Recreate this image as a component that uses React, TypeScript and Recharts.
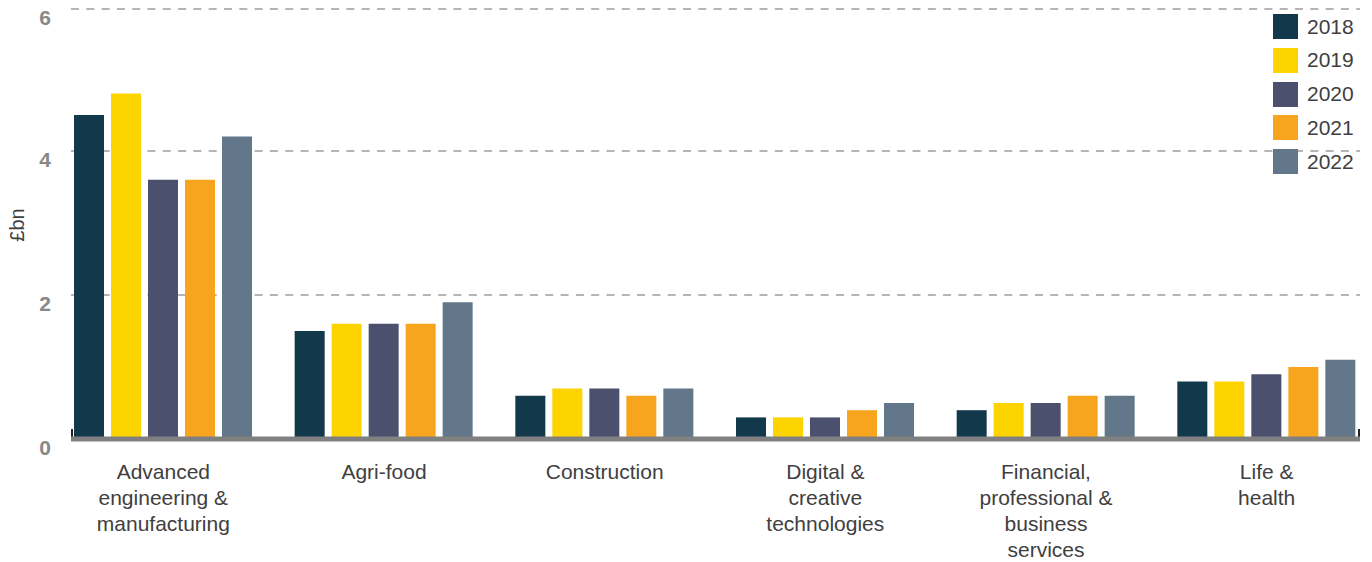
import React from "react";
import {
    BarChart,
    Bar,
    XAxis,
    YAxis,
    CartesianGrid,
    usePlotArea,
} from "recharts";

const categories = [
    "Advanced\nengineering &\nmanufacturing",
    "Agri-food",
    "Construction",
    "Digital &\ncreative\ntechnologies",
    "Financial,\nprofessional &\nbusiness\nservices",
    "Life &\nhealth",
];

const years = ["2018", "2019", "2020", "2021", "2022"];
const colors = ["#12384c", "#fdd300", "#4c506f", "#f7a51e", "#627789"];

const values2018 = [4.5, 1.5, 0.6, 0.3, 0.4, 0.8];
const values2019 = [4.8, 1.6, 0.7, 0.3, 0.5, 0.8];
const values2020 = [3.6, 1.6, 0.7, 0.3, 0.5, 0.9];
const values2021 = [3.6, 1.6, 0.6, 0.4, 0.6, 1.0];
const values2022 = [4.2, 1.9, 0.7, 0.5, 0.6, 1.1];

const yTicks = [0, 2, 4, 6];

const series = [values2018, values2019, values2020, values2021, values2022];

const data = categories.map((c, i) => {
    const row: any = { name: c };
    years.forEach((y, j) => {
        row[y] = series[j][i];
    });
    return row;
});

const FONT = "'Liberation Sans', Arial, sans-serif";
const GRID = "#b5b5b5";

const XTick = (props: any) => {
    const { x, y, payload } = props;
    const lines = String(payload.value).split("\n");
    return (
        <text x={x} y={y} textAnchor="middle" fill="#404040" fontSize={21} fontFamily={FONT}>
            {lines.map((l, i) => (
                <tspan key={i} x={x} y={479 + i * 26}>
                    {l}
                </tspan>
            ))}
        </text>
    );
};

const YTick = (props: any) => {
    const { y, payload } = props;
    return (
        <g>
            {payload.value === 6 && (
                <line
                    x1={71}
                    x2={1360}
                    y1={y}
                    y2={y}
                    stroke={GRID}
                    strokeWidth={2}
                    strokeDasharray="8 7.3"
                />
            )}
            <text x={51} y={y + 16} textAnchor="end" fill="#888888" fontSize={21} fontWeight="bold" fontFamily={FONT}>
                {payload.value}
            </text>
        </g>
    );
};

// little dark end ticks on the baseline
const EndTicks = () => {
    const area = usePlotArea();
    if (!area) return null;
    const bottom = area.y + area.height;
    return (
        <g>
            <line x1={area.x + 1} x2={area.x + 1} y1={bottom - 10} y2={bottom} stroke="#222" strokeWidth={2} />
            <line x1={area.x + area.width - 1} x2={area.x + area.width - 1} y1={bottom - 10} y2={bottom} stroke="#222" strokeWidth={2} />
        </g>
    );
};

// legend drawn as html over the chart, top right
const LegendBox = () => (
    <div style={{ position: "absolute", top: 14, left: 1273, fontFamily: FONT }}>
        {years.map((y, i) => (
            <div key={y} style={{ display: "flex", alignItems: "center", height: 25, marginBottom: 8.75 }}>
                <div style={{ width: 25, height: 25, background: colors[i] }} />
                <span style={{ marginLeft: 9, fontSize: 21, color: "#404040" }}>{y}</span>
            </div>
        ))}
    </div>
);

const App = () => {
    return (
        <div style={{ position: "relative", margin: "-8px 0 0 -8px", width: 1372, height: 562 }}>
            <BarChart
                width={1372}
                height={562}
                data={data}
                margin={{ top: 7, right: 12, left: 0, bottom: 0 }}
                barSize={30}
                barGap={7}
            >
                <CartesianGrid
                    vertical={false}
                    stroke={GRID}
                    strokeWidth={2}
                    strokeDasharray="8 7.3"
                />
                <XAxis
                    dataKey="name"
                    height={123}
                    interval={0}
                    padding={{ left: -18, right: -17 }}
                    tickLine={false}
                    axisLine={{ stroke: "#808080", strokeWidth: 5 }}
                    tick={<XTick />}
                />
                <YAxis
                    width={71}
                    domain={[0, 6]}
                    ticks={yTicks}
                    axisLine={false}
                    tickLine={false}
                    tick={<YTick />}
                    label={{
                        content: () => (
                            <text
                                x={24}
                                y={225}
                                transform="rotate(-90 24 225)"
                                textAnchor="middle"
                                fill="#404040"
                                fontSize={20}
                                fontFamily={FONT}
                            >
                                £bn
                            </text>
                        ),
                    }}
                />
                {years.map((y, i) => (
                    <Bar key={y} dataKey={y} fill={colors[i]} isAnimationActive={false} />
                ))}
                <EndTicks />
            </BarChart>
            <LegendBox />
        </div>
    );
};

export default App;
